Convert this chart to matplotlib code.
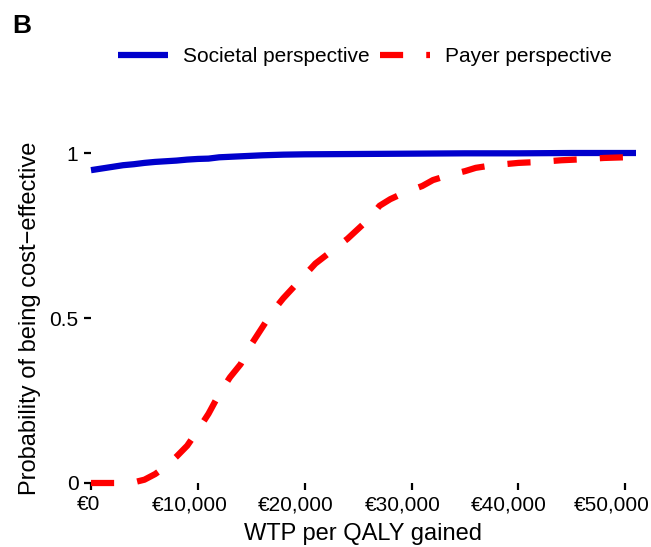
import matplotlib.pyplot as plt
from matplotlib.transforms import ScaledTranslation

plt.rcParams['font.family'] = ['Liberation Sans', 'DejaVu Sans']

# WTP thresholds (euro) and probability of being cost-effective
wtp_societal = [0, 1000, 2000, 3000, 4000, 5000, 6000, 7000, 8000, 9000, 10000,
                11000, 12000, 14000, 16000, 18000, 20000, 25000, 30000, 35000,
                40000, 45000, 51000]
p_societal = [0.948, 0.953, 0.958, 0.963, 0.966, 0.970, 0.973, 0.975, 0.977, 0.980, 0.982,
              0.983, 0.987, 0.990, 0.993, 0.995, 0.996, 0.997, 0.998, 0.999,
              0.999, 1.0, 1.0]

wtp_payer = [0, 1000, 2000, 3000, 4000, 5000, 6000, 7000, 8000, 9000, 10000,
             11000, 12000, 13000, 14000, 15000, 16000, 17000, 18000, 19000, 20000,
             21000, 22000, 23000, 24000, 25000, 26000, 27000, 28000, 29000, 30000,
             31000, 32000, 33000, 34000, 35000, 36000, 37000, 38000, 39000, 40000,
             42000, 44000, 46000, 48000, 50000, 51000]
p_payer = [0.0, 0.0, 0.0, 0.0, 0.002, 0.010, 0.027, 0.050, 0.080, 0.113, 0.160,
           0.210, 0.270, 0.320, 0.360, 0.420, 0.470, 0.520, 0.560, 0.595, 0.630,
           0.665, 0.690, 0.715, 0.740, 0.770, 0.800, 0.840, 0.860, 0.875, 0.888,
           0.900, 0.918, 0.928, 0.937, 0.945, 0.955, 0.960, 0.964, 0.967, 0.970,
           0.973, 0.978, 0.981, 0.985, 0.987, 0.988]

x_ticks = [0, 10000, 20000, 30000, 40000, 50000]
x_tick_labels = ['€0', '€10,000', '€20,000', '€30,000', '€40,000', '€50,000']
y_ticks = [0, 0.5, 1]
y_tick_labels = ['0', '0.5', '1']

W, H = 651, 547
fig = plt.figure(figsize=(W / 100, H / 100), dpi=100)
ax = fig.add_axes([91 / W, 1 - 483 / H, (636 - 91) / W, (483 - 153) / H])

lw = 4.5
ax.plot(wtp_societal, p_societal, color='#0000CC', lw=lw, solid_capstyle='butt',
        clip_on=False, label='Societal perspective')
ax.plot(wtp_payer, p_payer, color='#FF0000', lw=lw, linestyle=(0, (3.7, 3.7)),
        dash_capstyle='butt', clip_on=False, label='Payer perspective')

ax.set_xlim(0, 51000)
ax.set_ylim(0, 1)
ax.set_xticks(x_ticks)
ax.set_xticklabels(x_tick_labels)
ax.set_yticks(y_ticks)
ax.set_yticklabels(y_tick_labels)
for s in ax.spines.values():
    s.set_visible(False)
ax.tick_params(axis='both', length=5, width=1.6, labelsize=15, color='black', pad=4)

# labels in the original sit a little left of their ticks
shifts = [-2, -8, -9, -9, -10, -14]
for lab, dx in zip(ax.get_xticklabels(), shifts):
    lab.set_transform(lab.get_transform() + ScaledTranslation(dx / 100, 0, fig.dpi_scale_trans))

ax.set_xlabel('WTP per QALY gained', fontsize=17, labelpad=6)
ax.set_ylabel('Probability of being cost\u2212effective', fontsize=17, labelpad=6)

fig.legend(loc='center', bbox_to_anchor=(365 / W, 1 - 57 / H), ncol=2, frameon=False,
           fontsize=15, handlelength=2.4, handletextpad=0.7, columnspacing=0.5)

fig.text(12 / W, 1 - 26 / H, 'B', fontsize=19, fontweight='bold', va='center', ha='left')

plt.savefig('out.png', dpi=100)
